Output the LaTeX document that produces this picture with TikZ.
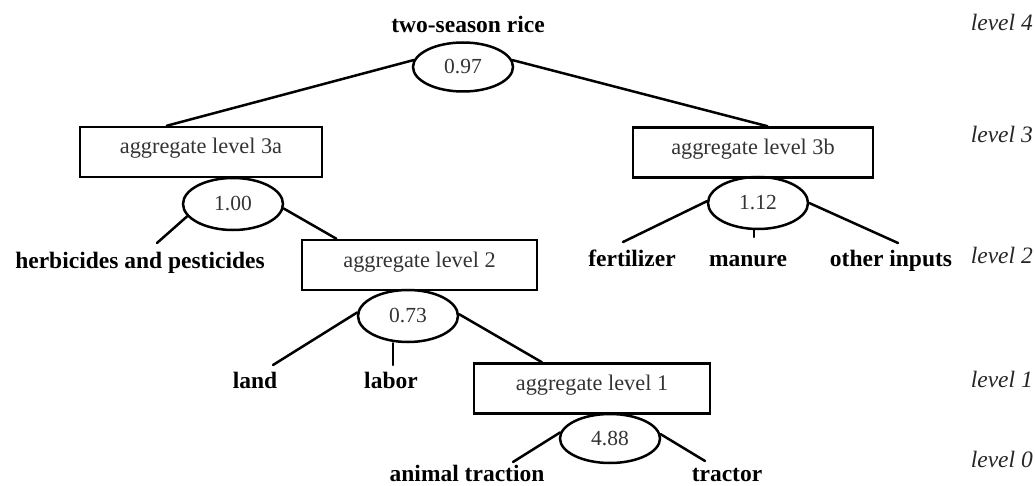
\documentclass[tikz,border=0pt]{standalone}
\usepackage{fontspec}
\setmainfont{Liberation Serif}
\usetikzlibrary{calc,shapes.geometric}
\begin{document}
\begin{tikzpicture}[x=1pt,y=-1pt,
  aggbox/.style={draw, line width=2.5pt, rectangle, minimum width=#1,
    minimum height=50pt, inner sep=0pt, text=black!80,
    font=\fontsize{22.3}{25}\selectfont, text height=11pt, text depth=7pt},
  elas/.style={draw, line width=2.5pt, ellipse, minimum width=100pt,
    minimum height=#1, inner sep=0pt, text=black!80,
    font=\fontsize{21.5}{24}\selectfont},
  item/.style={anchor=base, inner sep=0pt, font=\fontsize{23.5}{27}\selectfont\bfseries},
  lvl/.style={anchor=base east, inner sep=0pt, text=black!85,
    font=\fontsize{23.5}{26}\selectfont\itshape},
  conn/.style={line width=2.5pt, line cap=round}]
\useasboundingbox (0,0) rectangle (1035,486);

% level markers on the right
\node[lvl] (l4) at (1033,31)  {level 4};
\node[lvl] (l3) at (1033,143) {level 3};
\node[lvl] (l2) at (1033,263) {level 2};
\node[lvl] (l1) at (1033,387) {level 1};
\node[lvl] (l0) at (1033,467) {level 0};

% aggregation boxes
\node[aggbox=242pt] (b3a) at (201,152)   {aggregate level 3a};
\node[aggbox=240pt] (b3b) at (753,152.5) {aggregate level 3b};
\node[aggbox=235pt] (b2)  at (419.5,265) {aggregate level 2};
\node[aggbox=236pt] (b1)  at (592,388.5) {aggregate level 1};

% elasticities
\node[elas=49pt] (e4)  at (463,67)    {0.97};
\node[elas=52pt] (e3a) at (233,204)   {1.00};
\node[elas=52pt] (e3b) at (758,203)   {1.12};
\node[elas=52pt] (e2)  at (408,316)   {0.73};
\node[elas=49pt] (e1)  at (610,438.5) {4.88};

% inputs
\node[item] (rice) at (468,33)  {two-season rice};
\node[item] (herb) at (140,268) {herbicides and pesticides};
\node[item] (fert) at (632,266) {fertilizer};
\node[item] (man)  at (748,266) {manure};
\node[item] (oth)  at (891,266) {other inputs};
\node[item] (land) at (255,388) {land};
\node[item] (lab)  at (391,388) {labor};
\node[item] (ani)  at (467,481) {animal traction};
\node[item] (trac) at (727,481) {tractor};

% free ends of the short branches
\coordinate (cherb) at (157,243);
\coordinate (cfert) at (623,242);
\coordinate (cman)  at (754,237);
\coordinate (coth)  at (898,243);
\coordinate (cland) at (273,365);
\coordinate (clab)  at (393,365);
\coordinate (cani)  at (513,462);
\coordinate (ctrac) at (705,461);

% branches
\draw[conn] (e4.172) -- ($(b3a.north west)!0.36!(b3a.north east)$);
\draw[conn] (e4.8)   -- ($(b3b.north west)!0.56!(b3b.north east)$);
\draw[conn] (e3a.195) -- (cherb);
\draw[conn] (e3a.355) -- ($(b2.north west)!0.15!(b2.north east)$);
\draw[conn] (e3b.178) -- (cfert);
\draw[conn] (e3b.south -| cman) -- (cman);
\draw[conn] (e3b.0)   -- (coth);
\draw[conn] (e2.176) -- (cland);
\draw[conn] (e2.south -| clab) -- (clab);
\draw[conn] (e2.2)   -- ($(b1.north west)!0.29!(b1.north east)$);
\draw[conn] (e1.173) -- (cani);
\draw[conn] (e1.5)   -- (ctrac);
\end{tikzpicture}
\end{document}
